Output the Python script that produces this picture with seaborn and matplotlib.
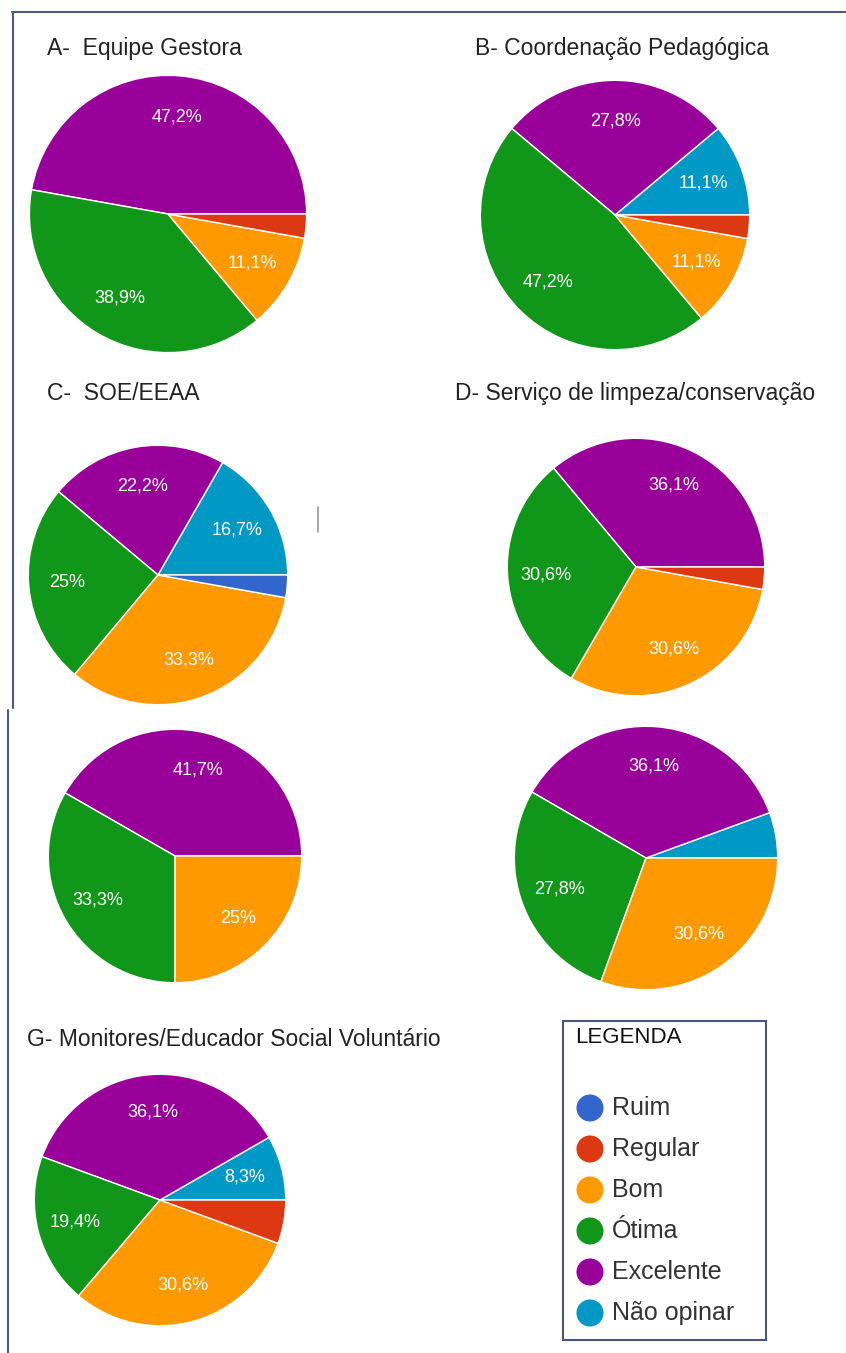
"""Avaliação dos serviços da escola - painel de gráficos de pizza (A a G)."""
import matplotlib
matplotlib.use("Agg")
import matplotlib.pyplot as plt
from matplotlib.lines import Line2D
import seaborn as sns

# categorias (ordem da legenda) e cores
categorias = ["Ruim", "Regular", "Bom", "Ótima", "Excelente", "Não opinar"]
cores = ["#3366CC", "#DC3912", "#FF9900", "#109618", "#990099", "#0099C6"]

# percentuais por categoria (mesma ordem de `categorias`)
equipe_gestora = [0, 2.8, 11.1, 38.9, 47.2, 0]
coordenacao = [0, 2.8, 11.1, 47.2, 27.8, 11.1]
soe_eeaa = [2.8, 0, 33.3, 25.0, 22.2, 16.7]
limpeza = [0, 2.8, 30.6, 30.6, 36.1, 0]
grafico_e = [0, 0, 25.0, 33.3, 41.7, 0]
grafico_f = [0, 0, 30.6, 27.8, 36.1, 5.6]
monitores = [0, 5.6, 30.6, 19.4, 36.1, 8.3]

titulos = ["A-  Equipe Gestora", "B- Coordenação Pedagógica", "C-  SOE/EEAA",
           "D- Serviço de limpeza/conservação", "", "",
           "G- Monitores/Educador Social Voluntário"]
series = [equipe_gestora, coordenacao, soe_eeaa, limpeza, grafico_e, grafico_f, monitores]

W, H = 846, 1353
sns.set_theme(style="white")
plt.rcParams["font.family"] = ["Liberation Sans", "DejaVu Sans"]

fig = plt.figure(figsize=(W / 100, H / 100), dpi=100)
fig.patch.set_facecolor("white")

# posição (centro x, centro y, raio) de cada pizza em pixels, e do título
layout = [(168, 214, 140), (615, 215, 136), (158, 575, 131), (636, 567, 130),
          (175, 856, 128), (646, 858, 133), (160, 1200, 127)]
pos_titulo = [(47, 55), (475, 55), (47, 400), (455, 400), None, None, (27, 1046)]


def rotulo(v):
    if v < 8:
        return ""
    s = f"{v:.1f}".replace(".", ",")
    return s[:-2] + "%" if s.endswith(",0") else s + "%"


for vals, titulo, (cx, cy, r), tpos in zip(series, titulos, layout, pos_titulo):
    ax = fig.add_axes([(cx - r) / W, 1 - (cy + r) / H, 2 * r / W, 2 * r / H])
    # desenha no sentido anti-horário a partir das 3h: Não opinar, Excelente, ...
    pares = [(v, c) for v, c in zip(vals[::-1], cores[::-1]) if v > 0]
    v_plot = [p[0] for p in pares]
    it = iter([rotulo(v) for v in v_plot])
    ax.pie(v_plot, colors=[p[1] for p in pares], startangle=0, counterclock=True,
           autopct=lambda p: next(it), pctdistance=0.7,
           wedgeprops=dict(edgecolor="white", linewidth=1),
           textprops=dict(color="white", fontsize=13))
    ax.set_xlim(-1.01, 1.01)
    ax.set_ylim(-1.01, 1.01)
    ax.set_aspect("equal")
    ax.axis("off")
    if tpos:
        fig.text(tpos[0] / W, 1 - tpos[1] / H, titulo, fontsize=16.5,
                 color="#222222", va="baseline", ha="left")

# legenda
lx0, ly0, lx1, ly1 = 563, 1021, 766, 1340
lax = fig.add_axes([lx0 / W, 1 - ly1 / H, (lx1 - lx0) / W, (ly1 - ly0) / H])
lax.set_xlim(lx0, lx1)
lax.set_ylim(ly1, ly0)
ys = [1108 + 41 * i for i in range(len(categorias))]
sns.scatterplot(x=[590] * len(categorias), y=ys, hue=categorias, palette=cores,
                s=380, legend=False, edgecolor="none", ax=lax)
for y, cat in zip(ys, categorias):
    lax.text(612, y, cat, fontsize=18, color="#333333", va="center", ha="left")
lax.text(575, 1043, "LEGENDA", fontsize=16, color="#111111", va="baseline")
lax.set_xticks([])
lax.set_yticks([])
lax.set_xlabel("")
lax.set_ylabel("")
for sp in lax.spines.values():
    sp.set_visible(True)
    sp.set_color("#4a5675")
    sp.set_linewidth(1.5)

# moldura da imagem original
cor_moldura = "#4f5b78"
def linha(x0, y0, x1, y1, cor=cor_moldura, lw=1.5):
    fig.add_artist(Line2D([x0 / W, x1 / W], [1 - y0 / H, 1 - y1 / H],
                          color=cor, linewidth=lw))

linha(12, 12, W, 12)
linha(13, 12, 13, 708)
linha(8, 710, 8, H)
linha(318, 507, 318, 532, cor="#999999", lw=1.2)

fig.savefig("out.png", dpi=100, facecolor="white")
